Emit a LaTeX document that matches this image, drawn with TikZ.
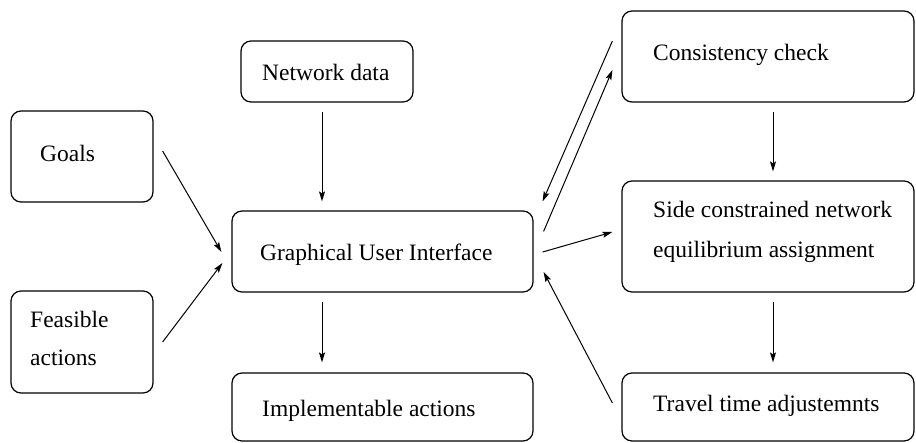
\documentclass[tikz,border=0pt]{standalone}
\usepackage{fontspec}
\newfontfamily\boxfont{Liberation Serif}
\usetikzlibrary{calc,arrows.meta}

\tikzset{
  box/.style={draw, line width=1.2pt, rounded corners=10pt, inner sep=0pt},
  lbl/.style={anchor=base west, inner sep=0pt, align=left,
              font=\boxfont\fontsize{23.5}{40}\selectfont},
  arr/.style={line width=1pt, -{Stealth[length=10pt,width=6pt,inset=2pt]}}
}

\begin{document}
\begin{tikzpicture}[x=1pt,y=-1pt]
\useasboundingbox (0,0) rectangle (916,442);

% boxes
\node[box, minimum width=172pt, minimum height=61pt]  (net)   at (327,71.5)   {};
\node[box, minimum width=142pt, minimum height=91pt]  (goals) at (82,156.5)   {};
\node[box, minimum width=142pt, minimum height=102pt] (feas)  at (82,342)     {};
\node[box, minimum width=301pt, minimum height=81pt]  (gui)   at (382.5,251.5){};
\node[box, minimum width=301pt, minimum height=68pt]  (impl)  at (382.5,407)  {};
\node[box, minimum width=292pt, minimum height=91pt]  (cons)  at (768,56.5)   {};
\node[box, minimum width=292pt, minimum height=111pt] (side)  at (768,236.5)  {};
\node[box, minimum width=292pt, minimum height=68pt]  (trav)  at (768,407)    {};

% texts (two-line labels are placed by the baseline of their last line)
\node[lbl] (tnet)   at (262,80)  {Network data};
\node[lbl] (tgoals) at (40,161)  {Goals};
\node[lbl] (tfeas)  at (30,365)  {Feasible\\[-2pt]actions};
\node[lbl] (tgui)   at (260,260) {Graphical User Interface};
\node[lbl] (timpl)  at (262,416) {Implementable actions};
\node[lbl] (tcons)  at (653,60)  {Consistency check};
\node[lbl] (tside)  at (653,257) {Side constrained network\\equilibrium assignment};
\node[lbl] (ttrav)  at (653,411) {Travel time adjustemnts};

% connectors
\draw[arr] ($(net.south)+(-5,9)$) -- ($(net.south |- gui.north)+(-5,-9)$);
\draw[arr] ($(gui.south)+(-60.5,9)$) -- ($(gui.south |- impl.north)+(-60.5,-10)$);
\draw[arr] ($(cons.south)+(5,9)$) -- ($(cons.south |- side.north)+(5,-9)$);
\draw[arr] ($(side.south)+(5,9)$) -- ($(side.south |- trav.north)+(5,-10)$);

\draw[arr] ($(goals.east)+(9,-5.5)$) -- ($(gui.west)+(-10,0.5)$);
\draw[arr] ($(feas.east)+(9,0)$) -- ($(gui.west)+(-9,11.5)$);

\draw[arr] ($(cons.west)+(-9,-15.5)$) -- ($(gui.north east)+(9,-9)$);
\draw[arr] ($(gui.north east)+(10,21)$) -- ($(cons.west)+(-9,13.5)$);
\draw[arr] ($(gui.east)+(9,0.5)$) -- ($(side.west)+(-9,-4.5)$);
\draw[arr] ($(trav.west)+(-9,-4)$) -- ($(gui.east)+(10,20.5)$);
\end{tikzpicture}
\end{document}
